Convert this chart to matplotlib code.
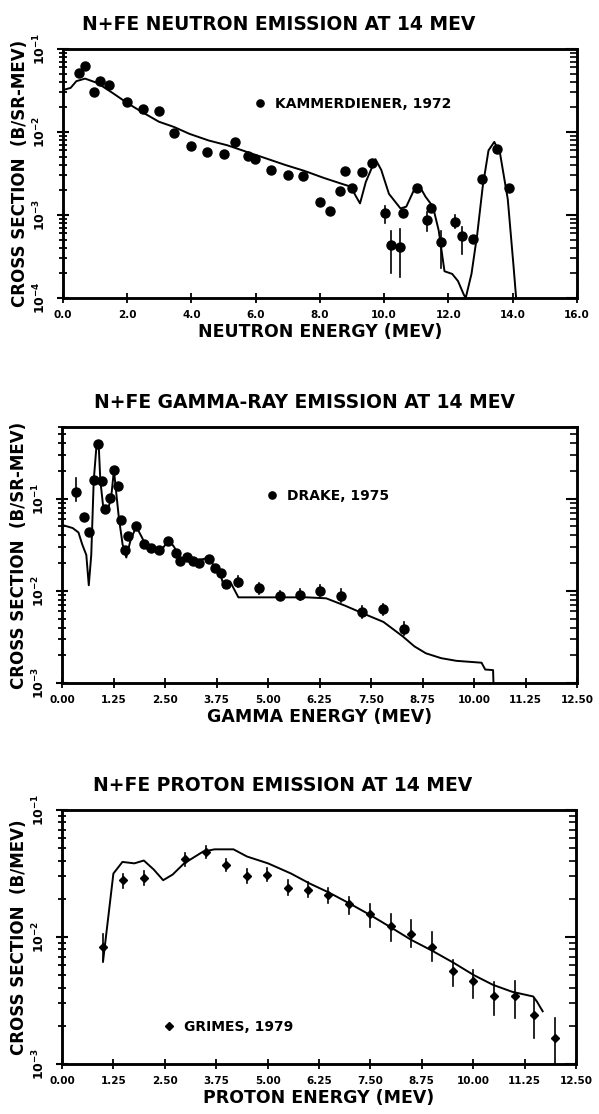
import numpy as np
import matplotlib
matplotlib.use("Agg")
import matplotlib.pyplot as plt
from matplotlib.ticker import LogLocator, FuncFormatter, NullFormatter

# ---------------- data: neutron panel ----------------
n_title = "N+FE NEUTRON EMISSION AT 14 MEV"
n_exp_E = [0.51, 0.69, 0.98, 1.17, 1.43, 2.0, 2.48, 2.98, 3.46, 4.0, 4.48, 5.02, 5.37, 5.76, 5.97,
           6.48, 7.01, 7.49, 8.0, 8.31, 8.62, 8.78, 9.01, 9.31, 9.61, 10.03, 10.21, 10.51, 10.6,
           11.02, 11.32, 11.46, 11.76, 12.21, 12.44, 12.78, 13.04, 13.52, 13.89]
n_exp_v = [5.2e-2, 6.2e-2, 3.0e-2, 4.1e-2, 3.7e-2, 2.3e-2, 1.9e-2, 1.8e-2, 9.8e-3, 6.8e-3, 5.8e-3,
           5.4e-3, 7.6e-3, 5.2e-3, 4.7e-3, 3.5e-3, 3.0e-3, 2.95e-3, 1.45e-3, 1.12e-3, 1.95e-3,
           3.4e-3, 2.1e-3, 3.3e-3, 4.2e-3, 1.05e-3, 4.3e-4, 4.1e-4, 1.05e-3, 2.1e-3, 8.7e-4,
           1.2e-3, 4.7e-4, 8.3e-4, 5.6e-4, 5.1e-4, 2.7e-3, 6.3e-3, 2.1e-3]
n_bar_E = [10.03, 10.21, 10.51, 11.32, 11.76, 12.21, 12.44]
n_bar_lo = [8.0e-4, 2.0e-4, 1.8e-4, 6.5e-4, 2.3e-4, 7.0e-4, 3.4e-4]
n_bar_hi = [1.3e-3, 6.5e-4, 6.8e-4, 1.1e-3, 6.5e-4, 1.0e-3, 7.1e-4]
n_calc_E = [0, 0.24, 0.42, 0.69, 1.07, 1.55, 2.03, 2.51, 2.99, 3.46, 3.94, 4.54, 5.13, 5.73, 6.33,
            6.93, 7.52, 8.12, 8.72, 8.96, 9.13, 9.25, 9.43, 9.73, 9.91, 10.15, 10.51, 10.69, 10.93,
            11.11, 11.29, 11.52, 11.70, 11.88, 12.12, 12.30, 12.48, 12.54, 12.72, 12.90, 13.07,
            13.25, 13.43, 13.61, 13.85, 14.03, 14.11]
n_calc_v = [3.2e-2, 3.4e-2, 4.1e-2, 4.4e-2, 3.9e-2, 2.95e-2, 2.2e-2, 1.7e-2, 1.33e-2, 1.15e-2,
            9.5e-3, 7.9e-3, 6.9e-3, 5.75e-3, 4.8e-3, 4.0e-3, 3.4e-3, 2.8e-3, 2.35e-3, 2.2e-3,
            1.66e-3, 1.38e-3, 2.5e-3, 4.7e-3, 3.5e-3, 1.8e-3, 1.2e-3, 1.26e-3, 2.0e-3, 2.2e-3,
            1.66e-3, 1.26e-3, 6.5e-4, 2.1e-4, 1.95e-4, 1.6e-4, 1.1e-4, 1.0e-4, 1.95e-4, 5.9e-4,
            2.2e-3, 6.0e-3, 7.6e-3, 5.5e-3, 1.55e-3, 2.4e-4, 1.0e-4]
n_label = "KAMMERDIENER, 1972"
n_xticks = [0, 2, 4, 6, 8, 10, 12, 14, 16]

# ---------------- data: gamma panel ----------------
g_title = "N+FE GAMMA-RAY EMISSION AT 14 MEV"
g_exp_E = [0.35, 0.54, 0.66, 0.77, 0.87, 0.96, 1.05, 1.16, 1.26, 1.35, 1.44, 1.52, 1.61, 1.80,
           1.98, 2.17, 2.36, 2.57, 2.77, 2.87, 3.04, 3.18, 3.33, 3.57, 3.71, 3.85, 3.99, 4.26,
           4.78, 5.29, 5.78, 6.27, 6.78, 7.29, 7.78, 8.29]
g_exp_v = [0.117, 0.063, 0.044, 0.158, 0.39, 0.155, 0.078, 0.102, 0.204, 0.138, 0.059, 0.028,
           0.039, 0.050, 0.032, 0.0295, 0.028, 0.035, 0.0257, 0.0209, 0.0234, 0.0209, 0.020,
           0.0219, 0.0178, 0.0155, 0.012, 0.0126, 0.0107, 0.0089, 0.0091, 0.010, 0.0089,
           0.0059, 0.0063, 0.0039]
g_bar_E = [0.35, 4.26, 4.78, 5.29, 5.78, 6.27, 6.78, 7.29, 7.78, 8.29]
g_bar_lo = [0.095, 0.011, 0.0093, 0.0080, 0.0080, 0.0087, 0.0075, 0.0051, 0.0055, 0.0033]
g_bar_hi = [0.166, 0.0145, 0.0123, 0.0099, 0.0104, 0.0115, 0.0105, 0.0068, 0.0072, 0.0046]
g_calc_E = [0, 0.26, 0.40, 0.49, 0.59, 0.65, 0.71, 0.77, 0.84, 0.89, 0.93, 1.01, 1.10, 1.19,
            1.26, 1.31, 1.38, 1.47, 1.56, 1.66, 1.80, 1.94, 2.08, 2.22, 2.40, 2.59, 2.73, 2.87,
            3.05, 3.19, 3.38, 3.57, 3.71, 3.85, 3.94, 4.08, 4.28, 4.45, 5.01, 5.94, 6.41, 6.87,
            7.34, 7.80, 8.27, 8.55, 8.83, 9.20, 9.57, 10.18, 10.27, 10.46, 10.47]
g_calc_v = [0.052, 0.048, 0.043, 0.032, 0.0245, 0.0115, 0.0245, 0.158, 0.39, 0.39, 0.158, 0.074,
            0.074, 0.10, 0.204, 0.123, 0.062, 0.032, 0.023, 0.035, 0.050, 0.038, 0.028, 0.030,
            0.027, 0.036, 0.0295, 0.0209, 0.0234, 0.020, 0.0219, 0.0229, 0.0178, 0.0148, 0.0107,
            0.0126, 0.0085, 0.0085, 0.0085, 0.0085, 0.0083, 0.0069, 0.0056, 0.0046, 0.0032,
            0.0025, 0.0021, 0.00186, 0.00174, 0.00166, 0.0014, 0.00138, 0.001]
g_label = "DRAKE, 1975"
e_xticks = [0, 1.25, 2.5, 3.75, 5.0, 6.25, 7.5, 8.75, 10.0, 11.25, 12.5]

# ---------------- data: proton panel ----------------
p_title = "N+FE PROTON EMISSION AT 14 MEV"
p_exp_E = [1.0, 1.48, 1.99, 2.99, 3.50, 3.99, 4.50, 4.99, 5.49, 5.98, 6.48, 6.98, 7.49, 8.0,
           8.49, 9.0, 9.51, 10.0, 10.51, 11.01, 11.48, 11.99]
p_exp_v = [0.0083, 0.028, 0.029, 0.041, 0.047, 0.037, 0.030, 0.031, 0.0245, 0.0234, 0.0214,
           0.0182, 0.0151, 0.0123, 0.0105, 0.0083, 0.0054, 0.0045, 0.0034, 0.0034, 0.00245, 0.0016]
p_exp_lo = [0.0063, 0.0245, 0.0255, 0.036, 0.042, 0.033, 0.0265, 0.0275, 0.0215, 0.0205, 0.0185,
            0.0151, 0.012, 0.0093, 0.0083, 0.0065, 0.0041, 0.0033, 0.00245, 0.0023, 0.0016, 0.001]
p_exp_hi = [0.0105, 0.0316, 0.033, 0.046, 0.052, 0.041, 0.034, 0.035, 0.028, 0.027, 0.0245,
            0.0207, 0.0182, 0.0151, 0.0135, 0.011, 0.0066, 0.0055, 0.0044, 0.0045, 0.0033, 0.0023]
p_calc_E = [1.0, 1.25, 1.47, 1.76, 1.99, 2.23, 2.46, 2.69, 2.97, 3.43, 3.71, 4.17, 4.50, 5.01,
            5.57, 6.03, 6.49, 6.96, 7.51, 7.98, 8.49, 9.00, 9.51, 10.02, 10.48, 10.95, 11.46,
            11.55, 11.69]
p_calc_v = [0.0065, 0.0316, 0.039, 0.038, 0.040, 0.034, 0.028, 0.031, 0.038, 0.047, 0.049, 0.049,
            0.043, 0.038, 0.0316, 0.0263, 0.0224, 0.0186, 0.0148, 0.012, 0.0095, 0.0078, 0.0063,
            0.005, 0.0042, 0.0037, 0.0034, 0.0031, 0.0026]
p_label = "GRIMES, 1979"

# ---------------- drawing ----------------
plt.rcParams['font.family'] = ['DejaVu Sans']
plt.rcParams['font.weight'] = 'bold'
plt.rcParams['mathtext.default'] = 'bf'

fig = plt.figure(figsize=(5.99, 11.14), dpi=100)


def logfmt(v, pos):
    e = int(round(np.log10(v)))
    return r"$\mathbf{10^{%d}}$" % e


def setup(ax, title, title_x, xlabel, ylabel, xlim, ylim, xticks, xfmt):
    ax.set_yscale('log')
    ax.set_xlim(*xlim)
    ax.set_ylim(*ylim)
    for s in ax.spines.values():
        s.set_linewidth(1.8)
    ax.set_xticks(xticks)
    ax.set_xticklabels([xfmt % t for t in xticks], fontsize=7.5, fontweight='bold')
    ax.yaxis.set_major_locator(LogLocator(base=10, numticks=10))
    ax.yaxis.set_minor_locator(LogLocator(base=10, subs=np.arange(2, 10), numticks=20))
    ax.yaxis.set_major_formatter(FuncFormatter(logfmt))
    ax.yaxis.set_minor_formatter(NullFormatter())
    ax.tick_params(axis='x', direction='inout', length=7, width=1.3, pad=5)
    ax.tick_params(axis='y', which='major', direction='inout', length=9, width=1.5, pad=6)
    ax.tick_params(axis='y', which='minor', direction='inout', length=6, width=1.3)
    for lab in ax.get_yticklabels():
        lab.set_rotation(90)
        lab.set_va('center')
        lab.set_fontsize(9)
    # right-hand inward ticks
    axr = ax.twinx()
    axr.set_yscale('log')
    axr.set_ylim(*ylim)
    axr.yaxis.set_major_locator(LogLocator(base=10, numticks=10))
    axr.yaxis.set_minor_locator(LogLocator(base=10, subs=np.arange(2, 10), numticks=20))
    axr.yaxis.set_major_formatter(NullFormatter())
    axr.yaxis.set_minor_formatter(NullFormatter())
    axr.tick_params(axis='y', which='major', direction='in', length=8, width=1.5)
    axr.tick_params(axis='y', which='minor', direction='in', length=5, width=1.2)
    for s in axr.spines.values():
        s.set_linewidth(1.8)
    ax.set_title(title, fontsize=13.5, fontweight='bold', pad=14, x=title_x)
    ax.set_xlabel(xlabel, fontsize=12.5, fontweight='bold', labelpad=2)
    ax.set_ylabel(ylabel, fontsize=12, fontweight='bold', labelpad=2)


def errbars(ax, E, lo, hi):
    for e, l, h in zip(E, lo, hi):
        ax.plot([e, e], [l, h], color='black', lw=1.2)


leg_kw = dict(loc='center left', frameon=False, handlelength=1.0, handletextpad=0.6,
              prop={'size': 10, 'weight': 'bold'}, markerscale=0.8)

# Panel 1: neutrons
ax1 = fig.add_axes([0.105, 0.7325, 0.858, 0.2235])
ax1.plot(n_calc_E, n_calc_v, color='black', lw=1.4)
errbars(ax1, n_bar_E, n_bar_lo, n_bar_hi)
ax1.plot(n_exp_E, n_exp_v, 'o', color='black', ms=6.5, label=n_label)
ax1.legend(bbox_to_anchor=(0.345, 0.78), **leg_kw)
setup(ax1, n_title, 0.42, "NEUTRON ENERGY (MEV)", "CROSS SECTION  (B/SR-MEV)",
      (0, 16), (1e-4, 1e-1), n_xticks, "%.1f")

# Panel 2: gammas
ax2 = fig.add_axes([0.1035, 0.3869, 0.8600, 0.2298])
ax2.plot(g_calc_E, g_calc_v, color='black', lw=1.4)
errbars(ax2, g_bar_E, g_bar_lo, g_bar_hi)
ax2.plot(g_exp_E, g_exp_v, 'o', color='black', ms=6.5, label=g_label)
ax2.legend(bbox_to_anchor=(0.37, 0.73), **leg_kw)
setup(ax2, g_title, 0.47, "GAMMA ENERGY (MEV)", "CROSS SECTION  (B/SR-MEV)",
      (0, 12.5), (1e-3, 0.6), e_xticks, "%.2f")

# Panel 3: protons
ax3 = fig.add_axes([0.1035, 0.0449, 0.8581, 0.228])
ax3.plot(p_calc_E, p_calc_v, color='black', lw=1.4)
errbars(ax3, p_exp_E, p_exp_lo, p_exp_hi)
ax3.plot(p_exp_E, p_exp_v, 'D', color='black', ms=4.5, label=p_label)
ax3.legend(bbox_to_anchor=(0.17, 0.146), **leg_kw)
setup(ax3, p_title, 0.43, "PROTON ENERGY (MEV)", "CROSS SECTION  (B/MEV)",
      (0, 12.5), (1e-3, 1e-1), e_xticks, "%.2f")

fig.savefig("out.png", dpi=100)
